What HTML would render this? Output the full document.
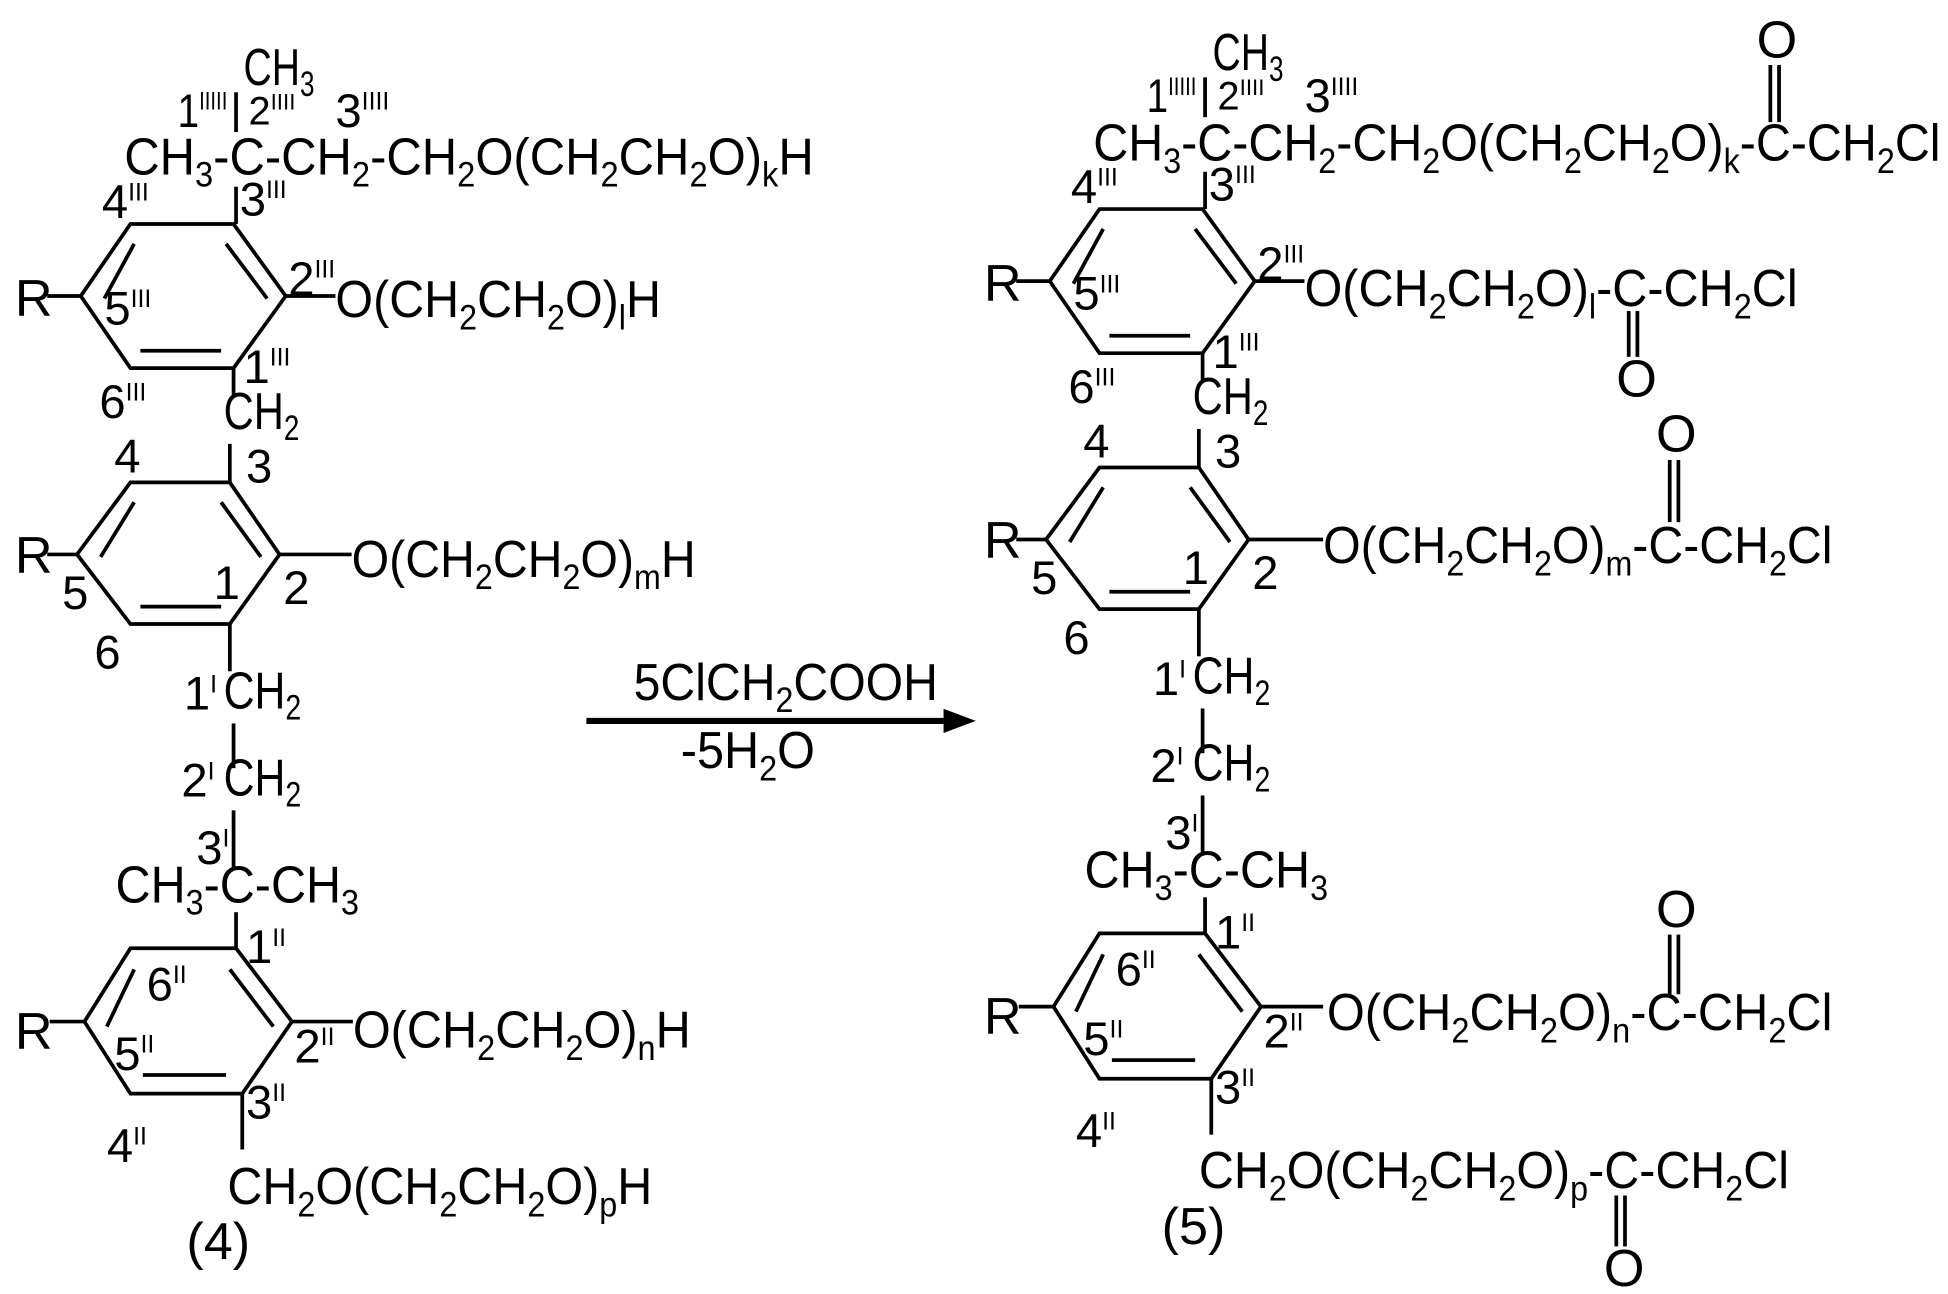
<!DOCTYPE html>
<html><head><meta charset="utf-8"><style>
html,body{margin:0;padding:0;background:#fff;}
svg{display:block;}
text{font-family:"Liberation Sans",Arial,sans-serif;fill:#000;}
.m{font-size:42px;}
.c{font-size:42px;}
.l{font-size:38px;}
line,polyline,polygon{stroke:#000;stroke-width:3;fill:none;}
</style></head><body>
<svg width="1948" height="1294" viewBox="0 0 1568 1041" xmlns="http://www.w3.org/2000/svg">
<defs>
<g id="core">
  <text class="c" transform="translate(196,68) scale(0.75,1)">CH<tspan font-size="28" dy="9">3</tspan></text>
  <text class="l" x="143" y="102" textLength="40" lengthAdjust="spacingAndGlyphs">1<tspan font-size="20" dy="-14">IIIII</tspan></text>
  <text class="l" x="200" y="100" style="font-size:32px">2<tspan font-size="18" dy="-12">IIII</tspan></text>
  <text class="l" x="270" y="102">3<tspan font-size="20" dy="-14">IIII</tspan></text>
  <line x1="190" y1="74" x2="190" y2="106"/>
  <line x1="190" y1="150" x2="190" y2="180"/>
  <polygon points="105,180 188,180 230,238 188,296 105,296 65,238"/>
  <line x1="182" y1="196" x2="215" y2="240"/>
  <line x1="108" y1="196" x2="84" y2="240"/>
  <line x1="113" y1="282" x2="178" y2="282"/>
  <text class="l" x="82" y="175">4<tspan font-size="20" dy="-14">III</tspan></text>
  <text class="l" x="193" y="173">3<tspan font-size="20" dy="-14">III</tspan></text>
  <text class="l" x="232" y="237">2<tspan font-size="20" dy="-14">III</tspan></text>
  <text class="l" x="84" y="261">5<tspan font-size="20" dy="-14">III</tspan></text>
  <text class="l" x="196" y="308">1<tspan font-size="20" dy="-14">III</tspan></text>
  <text class="l" x="80" y="336">6<tspan font-size="20" dy="-14">III</tspan></text>
  <text class="m" x="12" y="254">R</text>
  <line x1="38" y1="238" x2="65" y2="238"/>
  <line x1="188" y1="296" x2="188" y2="318"/>
  <text class="c" transform="translate(180,345) scale(0.8,1)">CH<tspan font-size="28" dy="9">2</tspan></text>
  <line x1="185" y1="357" x2="185" y2="388"/>
  <polygon points="105,388 185,388 225,446 185,502 105,502 62,446"/>
  <line x1="178" y1="404" x2="210" y2="448"/>
  <line x1="108" y1="404" x2="81" y2="448"/>
  <line x1="113" y1="488" x2="178" y2="488"/>
  <text class="l" x="92" y="380">4</text>
  <text class="l" x="198" y="388">3</text>
  <text class="l" x="228" y="486">2</text>
  <text class="l" x="172" y="482">1</text>
  <text class="l" x="50" y="490">5</text>
  <text class="l" x="76" y="538">6</text>
  <text class="m" x="12" y="461">R</text>
  <line x1="38" y1="446" x2="62" y2="446"/>
  <line x1="185" y1="502" x2="185" y2="540"/>
  <text class="l" x="148" y="571">1<tspan font-size="20" dy="-14">I</tspan></text>
  <text class="c" transform="translate(180,570) scale(0.82,1)">CH<tspan font-size="28" dy="9">2</tspan></text>
  <line x1="188" y1="582" x2="188" y2="618"/>
  <text class="l" x="146" y="641">2<tspan font-size="20" dy="-14">I</tspan></text>
  <text class="c" transform="translate(180,640) scale(0.82,1)">CH<tspan font-size="28" dy="9">2</tspan></text>
  <line x1="188" y1="652" x2="188" y2="700"/>
  <text class="l" x="158" y="695">3<tspan font-size="20" dy="-14">I</tspan></text>
  <text class="m" x="93" y="726" textLength="196" lengthAdjust="spacingAndGlyphs">CH<tspan font-size="28" dy="10">3</tspan><tspan dy="-10">-C-CH</tspan><tspan font-size="28" dy="10">3</tspan></text>
  <line x1="190" y1="734" x2="190" y2="763"/>
  <polygon points="105,763 190,763 235,822 195,880 105,880 68,822"/>
  <line x1="185" y1="780" x2="220" y2="826"/>
  <line x1="108" y1="780" x2="86" y2="826"/>
  <line x1="115" y1="865" x2="182" y2="865"/>
  <text class="l" x="198" y="775">1<tspan font-size="20" dy="-14">II</tspan></text>
  <text class="l" x="118" y="805">6<tspan font-size="20" dy="-14">II</tspan></text>
  <text class="l" x="92" y="861">5<tspan font-size="20" dy="-14">II</tspan></text>
  <text class="l" x="237" y="855">2<tspan font-size="20" dy="-14">II</tspan></text>
  <text class="l" x="198" y="900">3<tspan font-size="20" dy="-14">II</tspan></text>
  <text class="l" x="86" y="935">4<tspan font-size="20" dy="-14">II</tspan></text>
  <text class="m" x="12" y="844">R</text>
  <line x1="40" y1="822" x2="68" y2="822"/>
  <line x1="195" y1="880" x2="195" y2="925"/>
</g>
</defs>

<!-- Left molecule -->
<use href="#core"/>
<text class="m" x="100" y="140" textLength="555" lengthAdjust="spacingAndGlyphs">CH<tspan font-size="28" dy="10">3</tspan><tspan dy="-10">-C-CH</tspan><tspan font-size="28" dy="10">2</tspan><tspan dy="-10">-CH</tspan><tspan font-size="28" dy="10">2</tspan><tspan dy="-10">O(CH</tspan><tspan font-size="28" dy="10">2</tspan><tspan dy="-10">CH</tspan><tspan font-size="28" dy="10">2</tspan><tspan dy="-10">O)</tspan><tspan font-size="28" dy="10">k</tspan><tspan dy="-10">H</tspan></text>
<line x1="230" y1="238" x2="270" y2="238"/>
<text class="m" x="270" y="255" textLength="262" lengthAdjust="spacingAndGlyphs">O(CH<tspan font-size="28" dy="10">2</tspan><tspan dy="-10">CH</tspan><tspan font-size="28" dy="10">2</tspan><tspan dy="-10">O)</tspan><tspan font-size="28" dy="10">l</tspan><tspan dy="-10">H</tspan></text>
<line x1="225" y1="446" x2="283" y2="446"/>
<text class="m" x="283" y="464" textLength="277" lengthAdjust="spacingAndGlyphs">O(CH<tspan font-size="28" dy="10">2</tspan><tspan dy="-10">CH</tspan><tspan font-size="28" dy="10">2</tspan><tspan dy="-10">O)</tspan><tspan font-size="28" dy="10">m</tspan><tspan dy="-10">H</tspan></text>
<line x1="235" y1="822" x2="284" y2="822"/>
<text class="m" x="284" y="843" textLength="272" lengthAdjust="spacingAndGlyphs">O(CH<tspan font-size="28" dy="10">2</tspan><tspan dy="-10">CH</tspan><tspan font-size="28" dy="10">2</tspan><tspan dy="-10">O)</tspan><tspan font-size="28" dy="10">n</tspan><tspan dy="-10">H</tspan></text>
<text class="m" x="183" y="969" textLength="342" lengthAdjust="spacingAndGlyphs">CH<tspan font-size="28" dy="10">2</tspan><tspan dy="-10">O(CH</tspan><tspan font-size="28" dy="10">2</tspan><tspan dy="-10">CH</tspan><tspan font-size="28" dy="10">2</tspan><tspan dy="-10">O)</tspan><tspan font-size="28" dy="10">p</tspan><tspan dy="-10">H</tspan></text>
<text class="m" x="150" y="1013">(4)</text>

<!-- Arrow -->
<text class="m" x="510" y="563" textLength="245" lengthAdjust="spacingAndGlyphs">5ClCH<tspan font-size="28" dy="10">2</tspan><tspan dy="-10">COOH</tspan></text>
<line x1="472" y1="580" x2="765" y2="580" style="stroke-width:5"/>
<polygon points="760,571 784,580 760,589" style="fill:#000;stroke-width:1"/>
<text class="m" x="548" y="618" textLength="108" lengthAdjust="spacingAndGlyphs">-5H<tspan font-size="28" dy="10">2</tspan><tspan dy="-10">O</tspan></text>

<!-- Right molecule -->
<use href="#core" transform="translate(780,-12)"/>
<text class="m" x="880" y="129" textLength="682" lengthAdjust="spacingAndGlyphs">CH<tspan font-size="28" dy="10">3</tspan><tspan dy="-10">-C-CH</tspan><tspan font-size="28" dy="10">2</tspan><tspan dy="-10">-CH</tspan><tspan font-size="28" dy="10">2</tspan><tspan dy="-10">O(CH</tspan><tspan font-size="28" dy="10">2</tspan><tspan dy="-10">CH</tspan><tspan font-size="28" dy="10">2</tspan><tspan dy="-10">O)</tspan><tspan font-size="28" dy="10">k</tspan><tspan dy="-10">-C-CH</tspan><tspan font-size="28" dy="10">2</tspan><tspan dy="-10">Cl</tspan></text>
<text class="m" x="1414" y="46">O</text>
<line x1="1425" y1="52" x2="1425" y2="98"/><line x1="1432" y1="52" x2="1432" y2="98"/>

<line x1="1010" y1="226" x2="1050" y2="226"/>
<text class="m" x="1050" y="246" textLength="397" lengthAdjust="spacingAndGlyphs">O(CH<tspan font-size="28" dy="10">2</tspan><tspan dy="-10">CH</tspan><tspan font-size="28" dy="10">2</tspan><tspan dy="-10">O)</tspan><tspan font-size="28" dy="10">l</tspan><tspan dy="-10">-C-CH</tspan><tspan font-size="28" dy="10">2</tspan><tspan dy="-10">Cl</tspan></text>
<line x1="1311" y1="250" x2="1311" y2="287"/><line x1="1318" y1="250" x2="1318" y2="287"/>
<text class="m" x="1301" y="319">O</text>

<line x1="1005" y1="434" x2="1065" y2="434"/>
<text class="m" x="1065" y="453" textLength="410" lengthAdjust="spacingAndGlyphs">O(CH<tspan font-size="28" dy="10">2</tspan><tspan dy="-10">CH</tspan><tspan font-size="28" dy="10">2</tspan><tspan dy="-10">O)</tspan><tspan font-size="28" dy="10">m</tspan><tspan dy="-10">-C-CH</tspan><tspan font-size="28" dy="10">2</tspan><tspan dy="-10">Cl</tspan></text>
<text class="m" x="1333" y="363">O</text>
<line x1="1344" y1="370" x2="1344" y2="420"/><line x1="1351" y1="370" x2="1351" y2="420"/>

<line x1="1015" y1="810" x2="1065" y2="810"/>
<text class="m" x="1068" y="829" textLength="407" lengthAdjust="spacingAndGlyphs">O(CH<tspan font-size="28" dy="10">2</tspan><tspan dy="-10">CH</tspan><tspan font-size="28" dy="10">2</tspan><tspan dy="-10">O)</tspan><tspan font-size="28" dy="10">n</tspan><tspan dy="-10">-C-CH</tspan><tspan font-size="28" dy="10">2</tspan><tspan dy="-10">Cl</tspan></text>
<text class="m" x="1333" y="746">O</text>
<line x1="1344" y1="752" x2="1344" y2="800"/><line x1="1351" y1="752" x2="1351" y2="800"/>

<text class="m" x="965" y="956" textLength="475" lengthAdjust="spacingAndGlyphs">CH<tspan font-size="28" dy="10">2</tspan><tspan dy="-10">O(CH</tspan><tspan font-size="28" dy="10">2</tspan><tspan dy="-10">CH</tspan><tspan font-size="28" dy="10">2</tspan><tspan dy="-10">O)</tspan><tspan font-size="28" dy="10">p</tspan><tspan dy="-10">-C-CH</tspan><tspan font-size="28" dy="10">2</tspan><tspan dy="-10">Cl</tspan></text>
<line x1="1301" y1="962" x2="1301" y2="1003"/><line x1="1308" y1="962" x2="1308" y2="1003"/>
<text class="m" x="1291" y="1035">O</text>
<text class="m" x="935" y="1001">(5)</text>
</svg>
</body></html>
